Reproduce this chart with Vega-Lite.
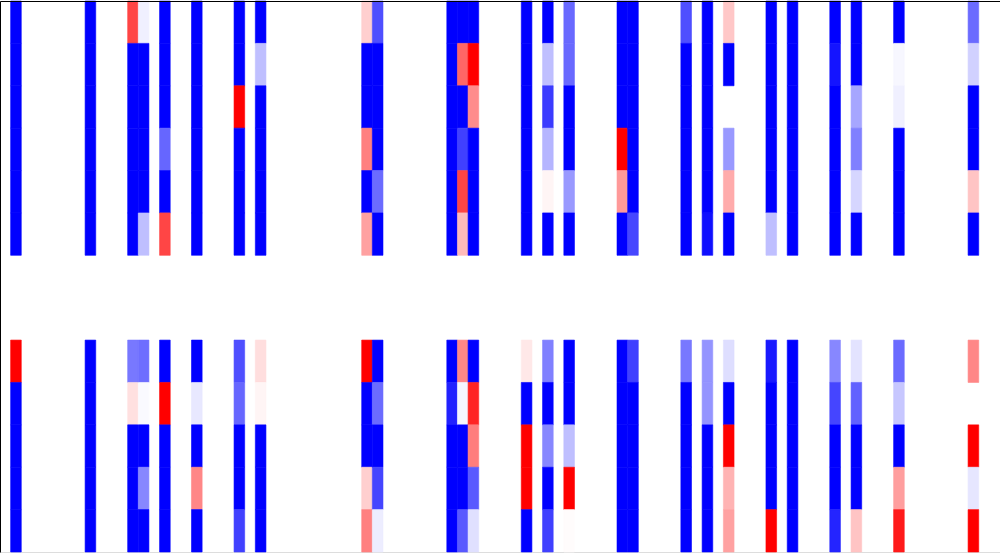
{
  "$schema": "https://vega.github.io/schema/vega-lite/v6.json",
  "autosize": {"type": "fit", "contains": "padding"},
  "width": 1000,
  "height": 553,
  "padding": 0,
  "background": "white",
  "config": {"view": {"stroke": "#dddddd"}},
  "data": {"values": [
    {"col":1,"row":0,"value":-1},{"col":1,"row":1,"value":-1},{"col":1,"row":2,"value":-1},{"col":1,"row":3,"value":-1},{"col":1,"row":4,"value":-1},{"col":1,"row":5,"value":-1},{"col":1,"row":8,"value":1},{"col":1,"row":9,"value":-1},{"col":1,"row":10,"value":-1},{"col":1,"row":11,"value":-1},{"col":1,"row":12,"value":-1},
    {"col":8,"row":0,"value":-1},{"col":8,"row":1,"value":-1},{"col":8,"row":2,"value":-1},{"col":8,"row":3,"value":-1},{"col":8,"row":4,"value":-1},{"col":8,"row":5,"value":-1},{"col":8,"row":8,"value":-1},{"col":8,"row":9,"value":-1},{"col":8,"row":10,"value":-1},{"col":8,"row":11,"value":-1},{"col":8,"row":12,"value":-1},
    {"col":12,"row":0,"value":0.73},{"col":12,"row":1,"value":-1},{"col":12,"row":2,"value":-1},{"col":12,"row":3,"value":-1},{"col":12,"row":4,"value":-1},{"col":12,"row":5,"value":-1},{"col":12,"row":8,"value":-0.53},{"col":12,"row":9,"value":0.12},{"col":12,"row":10,"value":-1},{"col":12,"row":11,"value":-1},{"col":12,"row":12,"value":-1},
    {"col":13,"row":0,"value":-0.06},{"col":13,"row":1,"value":-1},{"col":13,"row":2,"value":-1},{"col":13,"row":3,"value":-1},{"col":13,"row":4,"value":-1},{"col":13,"row":5,"value":-0.25},{"col":13,"row":8,"value":-0.57},{"col":13,"row":9,"value":-0.02},{"col":13,"row":10,"value":-1},{"col":13,"row":11,"value":-0.47},{"col":13,"row":12,"value":-1},
    {"col":15,"row":0,"value":-1},{"col":15,"row":1,"value":-1},{"col":15,"row":2,"value":-1},{"col":15,"row":3,"value":-0.6},{"col":15,"row":4,"value":-1},{"col":15,"row":5,"value":0.73},{"col":15,"row":8,"value":-1},{"col":15,"row":9,"value":1},{"col":15,"row":10,"value":-1},{"col":15,"row":11,"value":-1},{"col":15,"row":12,"value":-1},
    {"col":18,"row":0,"value":-1},{"col":18,"row":1,"value":-1},{"col":18,"row":2,"value":-1},{"col":18,"row":3,"value":-1},{"col":18,"row":4,"value":-1},{"col":18,"row":5,"value":-1},{"col":18,"row":8,"value":-1},{"col":18,"row":9,"value":-0.09},{"col":18,"row":10,"value":-1},{"col":18,"row":11,"value":0.47},{"col":18,"row":12,"value":-1},
    {"col":22,"row":0,"value":-1},{"col":22,"row":1,"value":-1},{"col":22,"row":2,"value":1},{"col":22,"row":3,"value":-1},{"col":22,"row":4,"value":-1},{"col":22,"row":5,"value":-1},{"col":22,"row":8,"value":-0.69},{"col":22,"row":9,"value":-0.6},{"col":22,"row":10,"value":-1},{"col":22,"row":11,"value":-1},{"col":22,"row":12,"value":-0.75},
    {"col":24,"row":0,"value":-1},{"col":24,"row":1,"value":-0.25},{"col":24,"row":2,"value":-1},{"col":24,"row":3,"value":-1},{"col":24,"row":4,"value":-1},{"col":24,"row":5,"value":-1},{"col":24,"row":8,"value":0.13},{"col":24,"row":9,"value":0.04},{"col":24,"row":10,"value":-1},{"col":24,"row":11,"value":-1},{"col":24,"row":12,"value":-1},
    {"col":34,"row":0,"value":0.19},{"col":34,"row":1,"value":-1},{"col":34,"row":2,"value":-1},{"col":34,"row":3,"value":0.5},{"col":34,"row":4,"value":-1},{"col":34,"row":5,"value":0.37},{"col":34,"row":8,"value":1},{"col":34,"row":9,"value":-1},{"col":34,"row":10,"value":-1},{"col":34,"row":11,"value":0.19},{"col":34,"row":12,"value":0.5},
    {"col":35,"row":0,"value":-0.69},{"col":35,"row":1,"value":-1},{"col":35,"row":2,"value":-1},{"col":35,"row":3,"value":-1},{"col":35,"row":4,"value":-0.58},{"col":35,"row":5,"value":-1},{"col":35,"row":8,"value":-1},{"col":35,"row":9,"value":-0.58},{"col":35,"row":10,"value":-1},{"col":35,"row":11,"value":-0.73},{"col":35,"row":12,"value":-0.07},
    {"col":42,"row":0,"value":-1},{"col":42,"row":1,"value":-1},{"col":42,"row":2,"value":-1},{"col":42,"row":3,"value":-1},{"col":42,"row":4,"value":-1},{"col":42,"row":5,"value":-1},{"col":42,"row":8,"value":-1},{"col":42,"row":9,"value":-0.87},{"col":42,"row":10,"value":-1},{"col":42,"row":11,"value":-1},{"col":42,"row":12,"value":-1},
    {"col":43,"row":0,"value":-1},{"col":43,"row":1,"value":0.6},{"col":43,"row":2,"value":-1},{"col":43,"row":3,"value":-0.75},{"col":43,"row":4,"value":0.73},{"col":43,"row":5,"value":0.27},{"col":43,"row":8,"value":0.47},{"col":43,"row":9,"value":-0.04},{"col":43,"row":10,"value":-1},{"col":43,"row":11,"value":-1},{"col":43,"row":12,"value":-0.65},
    {"col":44,"row":0,"value":-1},{"col":44,"row":1,"value":1},{"col":44,"row":2,"value":0.45},{"col":44,"row":3,"value":-1},{"col":44,"row":4,"value":-1},{"col":44,"row":5,"value":-1},{"col":44,"row":8,"value":-1},{"col":44,"row":9,"value":0.86},{"col":44,"row":10,"value":0.51},{"col":44,"row":11,"value":-0.65},{"col":44,"row":12,"value":-0.12},
    {"col":49,"row":0,"value":-1},{"col":49,"row":1,"value":-1},{"col":49,"row":2,"value":-1},{"col":49,"row":3,"value":-1},{"col":49,"row":4,"value":-1},{"col":49,"row":5,"value":-1},{"col":49,"row":8,"value":0.09},{"col":49,"row":9,"value":-1},{"col":49,"row":10,"value":1},{"col":49,"row":11,"value":1},{"col":49,"row":12,"value":-1},
    {"col":51,"row":0,"value":-1},{"col":51,"row":1,"value":-0.25},{"col":51,"row":2,"value":-0.77},{"col":51,"row":3,"value":-0.29},{"col":51,"row":4,"value":0.04},{"col":51,"row":5,"value":-1},{"col":51,"row":8,"value":-0.5},{"col":51,"row":9,"value":-1},{"col":51,"row":10,"value":-0.47},{"col":51,"row":11,"value":-1},{"col":51,"row":12,"value":-0.75},
    {"col":53,"row":0,"value":-0.59},{"col":53,"row":1,"value":-0.59},{"col":53,"row":2,"value":-1},{"col":53,"row":3,"value":-1},{"col":53,"row":4,"value":-0.4},{"col":53,"row":5,"value":-1},{"col":53,"row":8,"value":-1},{"col":53,"row":9,"value":-1},{"col":53,"row":10,"value":-0.25},{"col":53,"row":11,"value":1},{"col":53,"row":12,"value":0.01},
    {"col":58,"row":0,"value":-1},{"col":58,"row":1,"value":-1},{"col":58,"row":2,"value":-1},{"col":58,"row":3,"value":1},{"col":58,"row":4,"value":0.4},{"col":58,"row":5,"value":-1},{"col":58,"row":8,"value":-1},{"col":58,"row":9,"value":-1},{"col":58,"row":10,"value":-1},{"col":58,"row":11,"value":-1},{"col":58,"row":12,"value":-1},
    {"col":59,"row":0,"value":-1},{"col":59,"row":1,"value":-1},{"col":59,"row":2,"value":-1},{"col":59,"row":3,"value":-1},{"col":59,"row":4,"value":-1},{"col":59,"row":5,"value":-0.72},{"col":59,"row":8,"value":-0.75},{"col":59,"row":9,"value":-1},{"col":59,"row":10,"value":-1},{"col":59,"row":11,"value":-1},{"col":59,"row":12,"value":-1},
    {"col":64,"row":0,"value":-0.69},{"col":64,"row":1,"value":-1},{"col":64,"row":2,"value":-1},{"col":64,"row":3,"value":-1},{"col":64,"row":4,"value":-1},{"col":64,"row":5,"value":-1},{"col":64,"row":8,"value":-0.53},{"col":64,"row":9,"value":-1},{"col":64,"row":10,"value":-1},{"col":64,"row":11,"value":-1},{"col":64,"row":12,"value":-1},
    {"col":66,"row":0,"value":-1},{"col":66,"row":1,"value":-1},{"col":66,"row":2,"value":-1},{"col":66,"row":3,"value":-1},{"col":66,"row":4,"value":-1},{"col":66,"row":5,"value":-0.94},{"col":66,"row":8,"value":-0.42},{"col":66,"row":9,"value":-0.42},{"col":66,"row":10,"value":-1},{"col":66,"row":11,"value":-1},{"col":66,"row":12,"value":-1},
    {"col":68,"row":0,"value":0.22},{"col":68,"row":1,"value":-1},{"col":68,"row":3,"value":-0.4},{"col":68,"row":4,"value":0.33},{"col":68,"row":5,"value":-1},{"col":68,"row":8,"value":-0.13},{"col":68,"row":9,"value":-1},{"col":68,"row":10,"value":1},{"col":68,"row":11,"value":0.3},{"col":68,"row":12,"value":0.37},
    {"col":72,"row":0,"value":-1},{"col":72,"row":1,"value":-1},{"col":72,"row":2,"value":-1},{"col":72,"row":3,"value":-1},{"col":72,"row":4,"value":-1},{"col":72,"row":5,"value":-0.25},{"col":72,"row":8,"value":-0.9},{"col":72,"row":9,"value":-1},{"col":72,"row":10,"value":-1},{"col":72,"row":11,"value":-1},{"col":72,"row":12,"value":1},
    {"col":74,"row":0,"value":-1},{"col":74,"row":1,"value":-1},{"col":74,"row":2,"value":-1},{"col":74,"row":3,"value":-1},{"col":74,"row":4,"value":-1},{"col":74,"row":5,"value":-1},{"col":74,"row":8,"value":-1},{"col":74,"row":9,"value":-1},{"col":74,"row":10,"value":-1},{"col":74,"row":11,"value":-1},{"col":74,"row":12,"value":-1},
    {"col":78,"row":0,"value":-1},{"col":78,"row":1,"value":-0.92},{"col":78,"row":2,"value":-1},{"col":78,"row":3,"value":-1},{"col":78,"row":4,"value":-1},{"col":78,"row":5,"value":-1},{"col":78,"row":8,"value":-0.47},{"col":78,"row":9,"value":-0.73},{"col":78,"row":10,"value":-1},{"col":78,"row":11,"value":-1},{"col":78,"row":12,"value":-0.86},
    {"col":80,"row":0,"value":-1},{"col":80,"row":1,"value":-1},{"col":80,"row":2,"value":-0.35},{"col":80,"row":3,"value":-0.5},{"col":80,"row":4,"value":-0.16},{"col":80,"row":5,"value":-1},{"col":80,"row":8,"value":-0.11},{"col":80,"row":9,"value":-0.62},{"col":80,"row":10,"value":-1},{"col":80,"row":11,"value":-1},{"col":80,"row":12,"value":0.23},
    {"col":84,"row":0,"value":-1},{"col":84,"row":1,"value":-0.03},{"col":84,"row":2,"value":-0.06},{"col":84,"row":3,"value":-1},{"col":84,"row":4,"value":-1},{"col":84,"row":5,"value":-1},{"col":84,"row":8,"value":-0.58},{"col":84,"row":9,"value":-0.22},{"col":84,"row":10,"value":-1},{"col":84,"row":11,"value":0.38},{"col":84,"row":12,"value":0.9},
    {"col":91,"row":0,"value":-0.58},{"col":91,"row":1,"value":-0.18},{"col":91,"row":2,"value":-1},{"col":91,"row":3,"value":-1},{"col":91,"row":4,"value":0.23},{"col":91,"row":5,"value":-1},{"col":91,"row":8,"value":0.47},{"col":91,"row":10,"value":1},{"col":91,"row":11,"value":-0.1},{"col":91,"row":12,"value":1}
  ]},
  "mark": {"type": "rect", "strokeWidth": 0.6},
  "encoding": {
    "x": {
      "field": "col", "type": "ordinal",
      "scale": {"domain": [0,1,2,3,4,5,6,7,8,9,10,11,12,13,14,15,16,17,18,19,20,21,22,23,24,25,26,27,28,29,30,31,32,33,34,35,36,37,38,39,40,41,42,43,44,45,46,47,48,49,50,51,52,53,54,55,56,57,58,59,60,61,62,63,64,65,66,67,68,69,70,71,72,73,74,75,76,77,78,79,80,81,82,83,84,85,86,87,88,89,90,91,92,93], "paddingInner": 0, "paddingOuter": 0},
      "axis": {"orient": "top", "labels": false, "ticks": false, "title": null, "domain": true, "domainColor": "black", "domainWidth": 1, "grid": false}
    },
    "y": {
      "field": "row", "type": "ordinal",
      "scale": {"domain": [0,1,2,3,4,5,6,7,8,9,10,11,12], "paddingInner": 0, "paddingOuter": 0},
      "axis": {"orient": "left", "labels": false, "ticks": false, "title": null, "domain": true, "domainColor": "black", "domainWidth": 1, "grid": false}
    },
    "color": {
      "field": "value", "type": "quantitative",
      "scale": {"domain": [-1, 0, 1], "range": ["#0000ff", "#ffffff", "#ff0000"], "interpolate": "rgb"},
      "legend": null
    },
    "stroke": {
      "field": "value", "type": "quantitative",
      "scale": {"domain": [-1, 0, 1], "range": ["#0000ff", "#ffffff", "#ff0000"], "interpolate": "rgb"},
      "legend": null
    }
  }
}
